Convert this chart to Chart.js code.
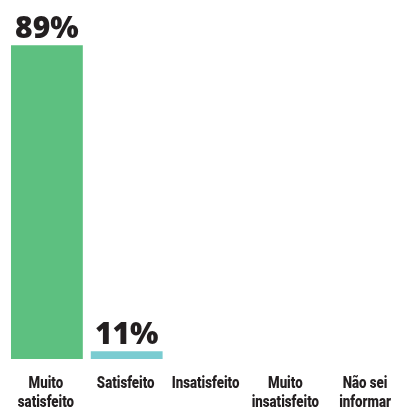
<!DOCTYPE html>
<html>
<head>
<meta charset="utf-8">
<script src="https://cdn.jsdelivr.net/npm/chart.js@4/dist/chart.umd.min.js"></script>
<style>
  html, body { margin: 0; padding: 0; background: #ffffff; overflow: hidden; }
  #wrap { position: absolute; left: 0; top: 0; width: 406px; height: 408px; }
</style>
</head>
<body>
<div id="wrap"><canvas id="chart" width="406" height="408"></canvas></div>
<script>
// Satisfaction survey results (percent of respondents)
const categories = [
  ['Muito', 'satisfeito'],
  ['Satisfeito'],
  ['Insatisfeito'],
  ['Muito', 'insatisfeito'],
  ['Não sei', 'informar']
];
const values = [89, 11, null, null, null];
const barColors = ['#5dc080', '#7accd1', '#5dc080', '#5dc080', '#5dc080'];
const valueLabels = ['89%', '11%', '', '', ''];

const TEXT_COLOR = '#231f20';

// Draws the percentage above each bar
const valueLabelPlugin = {
  id: 'valueLabels',
  afterDatasetsDraw(chart) {
    const ctx = chart.ctx;
    const meta = chart.getDatasetMeta(0);
    ctx.save();
    ctx.font = '800 30px "Open Sans", sans-serif';
    ctx.fillStyle = TEXT_COLOR;
    ctx.textAlign = 'center';
    ctx.textBaseline = 'alphabetic';
    meta.data.forEach((bar, i) => {
      if (values[i] == null || !valueLabels[i]) return;
      ctx.fillText(valueLabels[i], bar.x, bar.y - 7);
    });
    ctx.restore();
  }
};

// Category names under the axis, set in a narrow (horizontally condensed) bold face
const categoryLabelPlugin = {
  id: 'categoryLabels',
  afterDraw(chart) {
    const ctx = chart.ctx;
    const xScale = chart.scales.x;
    const base = chart.chartArea.bottom;
    ctx.save();
    ctx.font = '900 17px Roboto, sans-serif';
    ctx.fillStyle = TEXT_COLOR;
    ctx.textAlign = 'center';
    ctx.textBaseline = 'alphabetic';
    categories.forEach((lines, i) => {
      const x = xScale.getPixelForValue(i) - 1;
      lines.forEach((line, j) => {
        ctx.save();
        ctx.translate(x, base + 28.5 + j * 19);
        ctx.scale(0.78, 1);
        ctx.fillText(line, 0, 0);
        ctx.restore();
      });
    });
    ctx.restore();
  }
};

new Chart(document.getElementById('chart'), {
  type: 'bar',
  data: {
    labels: categories,
    datasets: [{
      data: values,
      backgroundColor: barColors,
      borderWidth: 0,
      barPercentage: 0.9,
      categoryPercentage: 1.0
    }]
  },
  options: {
    responsive: false,
    animation: false,
    layout: { padding: { left: 7, right: 0, top: 2, bottom: 49 } },
    plugins: { legend: { display: false }, tooltip: { enabled: false } },
    scales: {
      x: {
        grid: { display: false, drawTicks: false },
        border: { display: false },
        ticks: { display: false }
      },
      y: {
        display: false,
        min: 9,
        max: 100
      }
    }
  },
  plugins: [valueLabelPlugin, categoryLabelPlugin]
});
</script>
</body>
</html>
